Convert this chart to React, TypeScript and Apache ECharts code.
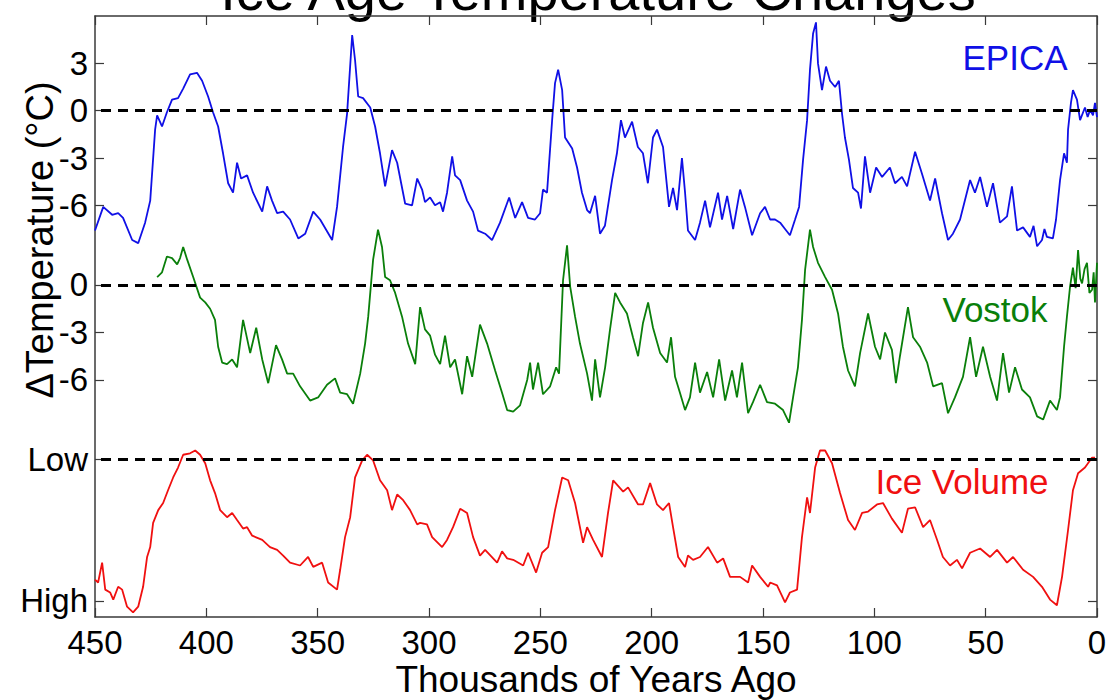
import React, { useEffect, useRef } from "react";
import * as echarts from "echarts";

// ---- data (age in thousands of years, value) ----
const xTickValues = [450, 400, 350, 300, 250, 200, 150, 100, 50, 0];
const epicaTicks = [3, 0, -3, -6];
const vostokTicks = [0, -3, -6];
const iceTicks = [0, 1];
const iceTickLabels = ["High", "Low"];

const epica: [number, number][] = [
  [450, -7.6], [446.3, -6.1], [442.3, -6.6], [439.6, -6.5], [437.4, -6.8], [433.3, -8.2], [430.6, -8.4],
  [427.5, -7.1], [425.2, -5.7], [423, -1.2], [422.1, -0.3], [419.9, -1.0], [417.7, -0.1], [415.4, 0.7],
  [412.7, 0.8], [410.4, 1.4], [407.3, 2.3], [404.2, 2.4], [401.9, 1.9], [399.2, 0.9], [397, -0.1],
  [394.7, -1.0], [392.5, -2.7], [390.2, -4.6], [388, -5.2], [386.2, -3.3], [384.4, -4.3], [381.7, -4.1],
  [379, -5.2], [374.9, -6.4], [372.7, -4.8], [370.5, -5.7], [368.2, -6.5], [365.5, -6.4], [362.4, -6.9],
  [358.7, -8.1], [355.6, -7.8], [352, -6.4], [348.9, -6.9], [343.5, -8.2], [341.3, -6.1], [338.6, -2.3],
  [336.8, -0.2], [334.5, 4.8], [333.2, 3.2], [331.8, 0.9], [329.6, 0.8], [326.4, 0.2], [324.2, -1.0],
  [322, -2.7], [319.7, -4.8], [316.6, -2.5], [314.3, -3.3], [310.7, -5.9], [307.6, -6.0], [305.3, -4.3],
  [303.1, -5.0], [301.8, -5.8], [299.5, -5.5], [297.3, -6.0], [295, -5.8], [293.7, -6.4], [291.9, -5.2],
  [289.6, -2.9], [288.3, -4.1], [286, -4.4], [282.9, -5.7], [280.2, -6.4], [278, -7.6], [274.8, -7.8],
  [271.7, -8.2], [268.1, -7.1], [264, -5.5], [261.3, -6.8], [258.2, -5.8], [255.5, -6.8], [252.4, -6.9],
  [250.1, -6.5], [248.8, -5.0], [247, -5.2], [244.7, -0.6], [243.4, 1.75], [242, 2.6], [240.2, 1.3],
  [238.9, -1.7], [235.7, -2.4], [233.5, -3.6], [231.3, -5.2], [229, -6.3], [227.7, -6.5], [225.4, -5.4],
  [223.2, -7.8], [221, -7.3], [217.8, -4.4], [215.6, -2.7], [213.8, -0.6], [212, -1.7], [208.8, -0.7],
  [206.2, -2.3], [203.9, -2.7], [201.7, -4.6], [199.4, -1.7], [197.6, -1.2], [194.9, -2.3], [192.2, -6.1],
  [190.4, -4.9], [188.6, -6.3], [186.4, -3.0], [185, -5.2], [183.7, -7.6], [180.5, -8.2], [178.3, -7.1],
  [176, -5.7], [173.8, -7.4], [170.2, -5.2], [168.4, -6.9], [166.1, -5.4], [163.4, -7.5], [160.3, -5.0],
  [158.1, -6.1], [154.9, -7.9], [151.3, -6.5], [149.1, -6.1], [146.8, -6.9], [144.6, -6.9], [142.3, -7.1],
  [140.1, -7.5], [137.9, -7.9], [135.6, -6.9], [133.8, -6.1], [132, -3.1], [130.2, -0.6], [128.9, 2.6],
  [127.5, 4.9], [126.2, 5.6], [125.3, 3.0], [123.5, 1.3], [121.7, 2.8], [119.9, 1.9], [117.6, 1.5],
  [115.9, 1.9], [114.5, -0.2], [113.2, -1.7], [111.4, -3.1], [109.6, -4.9], [107.3, -5.2], [106, -6.2],
  [104.2, -2.9], [101.9, -5.2], [99.2, -3.6], [96.5, -4.2], [93, -3.6], [90.7, -4.6], [87.6, -4.2],
  [85.3, -4.8], [81.7, -2.6], [78.6, -4.0], [75, -5.7], [72.7, -4.3], [69.6, -6.5], [66.9, -8.2],
  [64.7, -7.8], [61.5, -6.9], [57, -4.4], [54.8, -5.2], [52.5, -4.2], [49.4, -6.1], [46.7, -4.6],
  [43.6, -7.1], [40.4, -6.7], [38.2, -4.8], [35.9, -7.6], [33.2, -7.4], [30.1, -8.0], [28.5, -7.3],
  [26.9, -8.6], [24.7, -8.2], [23.6, -7.5], [22.5, -8.0], [19.8, -8.1], [18.4, -6.9], [16.6, -4.4],
  [14.8, -2.7], [13.5, -3.3], [13, -1.2], [11.7, 0.5], [10.8, 1.3], [9, 0.7], [7.6, -0.6], [5.4, 0.2],
  [4.2, -0.4], [3.1, 0.05], [1.8, -0.3], [0.9, 0.5], [0, -0.4],
];

const vostok: [number, number][] = [
  [422.1, 0.5], [419.9, 0.8], [417.7, 1.8], [415.4, 1.7], [413.1, 1.3], [411.8, 1.7], [410.4, 2.4],
  [408.6, 1.6], [405.9, 0.5], [402.8, -0.8], [400.5, -1.1], [398.3, -1.5], [396.1, -2.2], [394.7, -3.9],
  [392.9, -4.9], [390.7, -5.0], [388.4, -4.7], [386.2, -5.2], [383.5, -2.2], [380.3, -4.3], [377.6, -2.7],
  [374.9, -4.7], [372.2, -6.2], [368.7, -3.8], [366, -4.7], [363.7, -5.6], [361, -5.6], [357.9, -6.4],
  [353.4, -7.3], [349.8, -7.1], [345.8, -6.3], [342.2, -5.9], [339.9, -6.8], [336.8, -6.9], [334.1, -7.5],
  [330.9, -5.6], [328.7, -3.7], [327.3, -2.0], [325.1, 1.6], [322.9, 3.5], [321.1, 2.4], [319.7, 0.5],
  [317.5, 0.3], [315.2, -0.5], [312.1, -2.0], [309.4, -3.7], [306.2, -5.0], [304, -1.4], [301.8, -2.8],
  [299.5, -3.2], [297.3, -4.4], [295, -5.0], [292.8, -3.2], [290.5, -5.2], [288.3, -4.7], [285.1, -6.9],
  [282.9, -4.5], [280.6, -5.8], [277.1, -2.5], [273.9, -3.7], [270.3, -5.4], [267.2, -6.8], [264.9, -7.9],
  [262.2, -8.0], [259.1, -7.6], [255.9, -6.0], [254.6, -4.9], [253.3, -6.6], [251, -4.9], [248.8, -6.9],
  [245.6, -6.4], [242.9, -5.2], [241.6, -5.6], [239.8, 0.3], [238, 2.5], [236.6, -0.1], [234.4, -2.0],
  [232.2, -3.7], [229, -5.6], [226.8, -7.3], [225.4, -4.7], [223.2, -7.1], [220.9, -5.2], [218.7, -2.8],
  [216.4, -0.5], [214.2, -1.1], [211.1, -1.8], [208.4, -3.3], [206.1, -4.5], [203.9, -2.4], [201.6, -1.1],
  [199.4, -2.7], [196.2, -4.3], [193.1, -4.9], [191.3, -3.3], [189.5, -5.8], [187.3, -6.8], [185, -7.9],
  [182.8, -7.1], [180.5, -4.9], [178.3, -6.8], [175.1, -5.5], [172.4, -7.1], [169.7, -4.7], [167, -7.3],
  [163.9, -5.4], [161.7, -7.1], [159.4, -4.9], [156.7, -8.1], [154.5, -7.4], [151.3, -6.3], [148.2, -7.4],
  [144.6, -7.5], [141, -7.9], [138.3, -8.7], [136.5, -7.1], [134.3, -5.2], [132.5, -2.2], [131.1, 0.95],
  [128.9, 3.5], [127.5, 2.4], [125.3, 1.4], [122.1, 0.5], [119, -0.3], [116.3, -1.8], [114.1, -3.9],
  [111.8, -5.4], [108.7, -6.4], [106.4, -4.3], [102.8, -1.8], [99.7, -3.9], [97.4, -4.7], [95.2, -3.0],
  [92.1, -4.1], [90.3, -6.2], [88.5, -4.5], [84.9, -1.4], [82.6, -3.3], [79.5, -3.9], [76.3, -4.9],
  [73.6, -6.4], [69.6, -6.2], [66.9, -8.1], [63.8, -7.1], [60.2, -5.8], [57, -3.3], [54.3, -5.8],
  [51.2, -3.9], [48, -5.8], [44.9, -7.3], [42.2, -4.3], [39.5, -6.8], [36.8, -5.2], [33.7, -6.6],
  [30.1, -7.1], [26.9, -8.3], [24.2, -8.5], [21.1, -7.3], [18, -7.9], [16.6, -7.1], [14.8, -3.9],
  [13.5, -2.0], [12.1, -0.1], [10.8, 1.1], [9.6, -0.2], [8.5, 2.2], [7.5, 0.4], [6.7, 0.1], [5.6, 1.0],
  [4.5, 1.4], [3.4, -0.5], [2.2, -0.3], [1.5, 0.8], [0.9, -1.1], [0, 1.4],
];

// 0 = High ice volume, 1 = Low ice volume
const iceVolume: [number, number][] = [
  [450, 0.15], [448.6, 0.13], [446.8, 0.27], [445.4, 0.08], [443.2, 0.06], [441.8, 0.01], [439.6, 0.1],
  [437.8, 0.08], [435.6, -0.04], [432.9, -0.08], [430.6, -0.04], [428.4, 0.1], [426.6, 0.31], [425.2, 0.38],
  [423.9, 0.55], [421.6, 0.64], [419.4, 0.69], [417.2, 0.78], [414.9, 0.87], [412.7, 0.94], [410.4, 1.03],
  [407.3, 1.04], [405, 1.06], [402.8, 1.03], [400.5, 0.97], [398.3, 0.85], [396.1, 0.76], [393.8, 0.64],
  [390.7, 0.59], [388.4, 0.62], [386.2, 0.57], [383.5, 0.51], [381.7, 0.52], [379.4, 0.46], [374.9, 0.43],
  [371.4, 0.38], [368.2, 0.36], [365.5, 0.32], [362.4, 0.27], [357.9, 0.25], [354.3, 0.31], [352, 0.24],
  [348, 0.27], [345.3, 0.13], [341.3, 0.08], [339.9, 0.22], [337.7, 0.45], [335.4, 0.59], [333.2, 0.87],
  [330, 0.99], [327.8, 1.03], [325.1, 0.99], [322, 0.85], [318.8, 0.78], [316.6, 0.64], [314.3, 0.75],
  [311.6, 0.71], [308.5, 0.64], [305.3, 0.54], [304, 0.55], [300.9, 0.54], [298.6, 0.45], [294.1, 0.38],
  [291.9, 0.43], [289.2, 0.52], [286, 0.65], [282.9, 0.62], [280.2, 0.45], [277.1, 0.32], [274.8, 0.36],
  [269.4, 0.27], [267.2, 0.35], [264.9, 0.3], [262.2, 0.29], [257.7, 0.25], [255.5, 0.34], [251.9, 0.2],
  [249.2, 0.34], [246.5, 0.38], [243.4, 0.64], [240.2, 0.87], [237.5, 0.85], [234.4, 0.69], [230.8, 0.41],
  [229, 0.52], [226.3, 0.43], [222.3, 0.31], [219.6, 0.62], [217.3, 0.85], [212.8, 0.77], [210.6, 0.8],
  [206.1, 0.68], [203.9, 0.68], [200.7, 0.83], [197.6, 0.68], [194.9, 0.64], [192.2, 0.69], [190.4, 0.52],
  [188.1, 0.31], [185, 0.24], [183.7, 0.32], [181.4, 0.29], [178.3, 0.31], [174.7, 0.38], [170.6, 0.27],
  [167.9, 0.3], [164.8, 0.17], [160.3, 0.17], [156.7, 0.13], [154.9, 0.25], [151.3, 0.17], [147.7, 0.1],
  [146.8, 0.13], [143.7, 0.11], [140.1, -0.01], [137.9, 0.06], [134.7, 0.08], [132.5, 0.45], [130.2, 0.73],
  [128.9, 0.62], [126.6, 0.94], [124.4, 1.06], [122.1, 1.06], [119, 0.97], [115.4, 0.76], [111.8, 0.57],
  [108.7, 0.5], [105.5, 0.62], [102.8, 0.63], [98.8, 0.68], [96.1, 0.69], [92.1, 0.58], [87.6, 0.48],
  [84.9, 0.65], [81.7, 0.66], [78.1, 0.52], [75, 0.57], [71.8, 0.43], [69.2, 0.31], [66, 0.25],
  [62.9, 0.29], [60.6, 0.23], [57, 0.34], [52.5, 0.37], [48, 0.31], [44.9, 0.36], [40.4, 0.27],
  [37.7, 0.31], [33.2, 0.22], [28.7, 0.17], [24.7, 0.1], [21.1, 0.01], [18, -0.03], [15.7, 0.17],
  [13, 0.5], [10.8, 0.78], [8.5, 0.9], [5.4, 0.94], [2.2, 1.01], [0.9, 1.01],
];

// ---- styling ----
const FONT = "'Liberation Sans', Arial, Helvetica, sans-serif";
const AXIS_COLOR = "#3a3a3a";
const BLUE = "#1010e6";
const GREEN = "#0a7f0a";
const RED = "#f01010";
const gridBox = { left: 95, top: 16, width: 1002, height: 601, show: false, containLabel: false, outerBoundsMode: "none" };

const axisLine = { show: true, onZero: false, lineStyle: { color: AXIS_COLOR, width: 1.5 } };
const noAxisLine = { show: false, onZero: false };
const tickStyle = { color: AXIS_COLOR, width: 1.2 };

function leftY(gridIndex: number, min: number, max: number, ticks: number[], showLine: boolean, fmt?: (v: number) => string) {
  return {
    type: "value", gridIndex, min, max, position: "left",
    axisLine: showLine ? axisLine : noAxisLine,
    axisTick: { show: true, inside: true, length: 9, lineStyle: tickStyle, customValues: ticks },
    axisLabel: {
      show: true, customValues: ticks, color: "#000", fontSize: 33, fontFamily: FONT, margin: 7,
      formatter: fmt ? (v: number) => fmt(v) : (v: number) => String(v),
    },
    splitLine: { show: false },
  };
}
function rightY(gridIndex: number, min: number, max: number, ticks: number[], showLine: boolean) {
  return {
    type: "value", gridIndex, min, max, position: "right",
    axisLine: showLine ? axisLine : noAxisLine,
    axisTick: { show: true, inside: true, length: 9, lineStyle: tickStyle, customValues: ticks },
    axisLabel: { show: false },
    splitLine: { show: false },
  };
}

const dashed = (value: number) => ({
  silent: true,
  symbol: ["none", "none"],
  label: { show: false },
  lineStyle: { color: "#000", type: [10, 7], width: 2.8 },
  data: [{ yAxis: value }],
});

export default function App() {
  const ref = useRef<HTMLDivElement>(null);
  useEffect(() => {
    const chart = echarts.init(ref.current!, null, { renderer: "svg" });
    const xBase = { type: "value", min: 0, max: 450, inverse: true, interval: 50, splitLine: { show: false } };
    chart.setOption({
      animation: false,
      backgroundColor: "#fff",
      grid: [gridBox, gridBox, gridBox],
      xAxis: [
        {
          ...xBase, gridIndex: 0, position: "bottom",
          axisLine,
          axisTick: { show: true, inside: true, length: 9, lineStyle: tickStyle },
          axisLabel: { color: "#000", fontSize: 33, fontFamily: FONT, margin: 9 },
          name: "Thousands of Years Ago", nameLocation: "middle", nameGap: 42, nameMoveOverlap: false,
          nameTextStyle: { color: "#000", fontSize: 37, fontFamily: FONT, lineHeight: 40 },
        },
        {
          ...xBase, gridIndex: 0, position: "top",
          axisLine,
          axisTick: { show: true, inside: true, length: 9, lineStyle: tickStyle },
          axisLabel: { show: false },
        },
        { ...xBase, gridIndex: 1, show: false, axisLine: noAxisLine },
        { ...xBase, gridIndex: 2, show: false, axisLine: noAxisLine },
      ],
      yAxis: [
        leftY(0, -32.105, 6.005, epicaTicks, true),
        rightY(0, -32.105, 6.005, epicaTicks, true),
        leftY(1, -20.97, 16.99, vostokTicks, false),
        rightY(1, -20.97, 16.99, vostokTicks, false),
        leftY(2, -0.1127, 4.12, iceTicks, false, (v) => iceTickLabels[iceTicks.indexOf(v)] ?? ""),
        rightY(2, -0.1127, 4.12, iceTicks, false),
      ],
      series: [
        {
          name: "EPICA", type: "line", xAxisIndex: 0, yAxisIndex: 0, data: epica,
          showSymbol: false, lineStyle: { color: BLUE, width: 1.8 }, markLine: dashed(0), z: 3,
        },
        {
          name: "Vostok", type: "line", xAxisIndex: 2, yAxisIndex: 2, data: vostok,
          showSymbol: false, lineStyle: { color: GREEN, width: 1.8 }, markLine: dashed(0), z: 3,
        },
        {
          name: "Ice Volume", type: "line", xAxisIndex: 3, yAxisIndex: 4, data: iceVolume,
          showSymbol: false, lineStyle: { color: RED, width: 1.8 }, markLine: dashed(1), z: 3,
        },
      ],
      graphic: [
        {
          type: "text", x: 598, y: 18,
          style: { text: "Ice Age Temperature Changes", fontSize: 56, fontFamily: FONT, fill: "#000", textAlign: "center", textVerticalAlign: "bottom" },
        },
        {
          type: "text", x: 40, y: 240, rotation: Math.PI / 2,
          style: { text: "\u0394Temperature (\u00B0C)", fontSize: 38, fontFamily: FONT, fill: "#000", textAlign: "center", textVerticalAlign: "middle" },
        },
        {
          type: "text", x: 1015, y: 57,
          style: { text: "EPICA", fontSize: 35, fontFamily: FONT, fill: BLUE, textAlign: "center", textVerticalAlign: "middle" },
        },
        {
          type: "text", x: 995, y: 309,
          style: { text: "Vostok", fontSize: 35, fontFamily: FONT, fill: GREEN, textAlign: "center", textVerticalAlign: "middle" },
        },
        {
          type: "text", x: 962, y: 481,
          style: { text: "Ice Volume", fontSize: 35, fontFamily: FONT, fill: RED, textAlign: "center", textVerticalAlign: "middle" },
        },
      ],
    });
    return () => chart.dispose();
  }, []);
  return (
    <div
      ref={ref}
      style={{ position: "fixed", left: 0, top: 0, width: 1109, height: 700, background: "#fff" }}
    />
  );
}
